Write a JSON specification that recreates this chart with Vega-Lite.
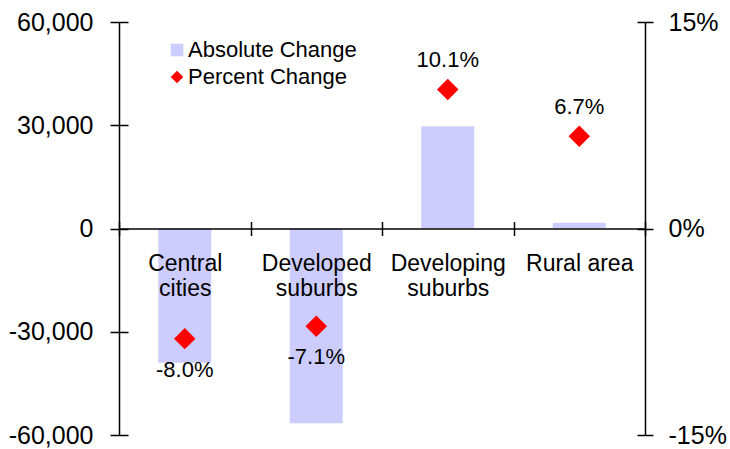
{
  "$schema": "https://vega.github.io/schema/vega-lite/v6.json",
  "width": 526,
  "height": 413,
  "autosize": {"type": "none"},
  "padding": {"left": 119, "top": 22, "right": 85, "bottom": 14},
  "config": {
    "view": {"stroke": null},
    "font": "Liberation Sans",
    "locale": {"number": {"decimal": ".", "thousands": ",", "grouping": [3], "currency": ["$", ""], "minus": "-"}},
    "axis": {"domainColor": "black", "tickColor": "black", "labelColor": "black", "grid": false, "title": null, "domainWidth": 1.5, "tickWidth": 1.5, "labelFont": "Liberation Sans"},
    "legend": {"labelFont": "Liberation Sans"}
  },
  "data": {
    "values": [
      {"cat": "Central cities", "abs": -39000, "pct": -0.080},
      {"cat": "Developed suburbs", "abs": -56600, "pct": -0.071},
      {"cat": "Developing suburbs", "abs": 29700, "pct": 0.101},
      {"cat": "Rural area", "abs": 1700, "pct": 0.067}
    ]
  },
  "layer": [
    {
      "mark": {"type": "bar", "width": 53},
      "encoding": {
        "x": {"field": "cat", "type": "nominal", "sort": null,
          "scale": {"paddingInner": 0, "paddingOuter": 0},
          "axis": {"orient": "bottom", "offset": -206.5, "zindex": 1, "tickBand": "extent", "tickSize": 7, "labelPadding": 17, "labelAngle": 0, "labelFontSize": 23, "labelLineHeight": 25, "labelLimit": 300,
            "labelExpr": "!isValid(datum.value) ? '' : (datum.value == 'Rural area' ? datum.value : split(datum.value, ' '))"}},
        "y": {"field": "abs", "type": "quantitative",
          "scale": {"domain": [-60000, 60000], "nice": false},
          "axis": {"orient": "left", "values": [-60000, -30000, 0, 30000, 60000], "format": ",.0f", "tickSize": 9, "labelPadding": 17, "labelFontSize": 25}},
        "color": {"datum": "Absolute Change", "type": "nominal",
          "scale": {"domain": ["Absolute Change", "Percent Change"], "range": ["#CCCCFF", "#FF0000"]},
          "legend": {"title": null, "orient": "none", "legendX": 47, "legendY": 17, "labelFontSize": 22, "labelLimit": 400, "symbolSize": 160, "rowPadding": 5, "labelOffset": 0}}
      }
    },
    {
      "mark": {"type": "bar", "width": 53, "opacity": 0},
      "encoding": {
        "x": {"field": "cat", "type": "nominal", "sort": null,
          "axis": {"orient": "bottom", "offset": -206.5, "zindex": 1, "tickBand": "extent", "tickSize": -7, "labels": false, "domain": false}},
        "y": {"field": "abs", "type": "quantitative",
          "scale": {"domain": [-60000, 60000], "nice": false},
          "axis": {"orient": "left", "values": [-60000, -30000, 0, 30000, 60000], "tickSize": -9, "labels": false, "domain": false}}
      }
    },
    {
      "mark": {"type": "point", "filled": true, "opacity": 1, "size": 460},
      "encoding": {
        "x": {"field": "cat", "type": "nominal", "sort": null, "axis": null},
        "y": {"field": "pct", "type": "quantitative",
          "scale": {"domain": [-0.15, 0.15], "nice": false},
          "axis": {"orient": "right", "values": [-0.15, 0, 0.15], "format": ".0%", "tickSize": 8, "labelPadding": 15, "labelFontSize": 25}},
        "color": {"datum": "Percent Change", "type": "nominal"},
        "shape": {"datum": "Percent Change", "type": "nominal",
          "scale": {"domain": ["Absolute Change", "Percent Change"], "range": ["square", "diamond"]},
          "legend": {"title": null, "orient": "none", "legendX": 47, "legendY": 17, "labelFontSize": 22, "labelLimit": 400, "symbolSize": 160, "rowPadding": 5, "labelOffset": 0}}
      }
    },
    {
      "transform": [{"filter": "datum.pct > 0"}],
      "mark": {"type": "text", "dy": -29, "fontSize": 22, "color": "black"},
      "encoding": {
        "x": {"field": "cat", "type": "nominal", "sort": null, "axis": null},
        "y": {"field": "pct", "type": "quantitative",
          "scale": {"domain": [-0.15, 0.15], "nice": false},
          "axis": {"orient": "right", "values": [-0.15, 0, 0.15], "tickSize": -8, "labels": false, "domain": false}},
        "text": {"field": "pct", "type": "quantitative", "format": ".1%"}
      }
    },
    {
      "transform": [{"filter": "datum.pct < 0"}],
      "mark": {"type": "text", "dy": 31, "fontSize": 22, "color": "black"},
      "encoding": {
        "x": {"field": "cat", "type": "nominal", "sort": null, "axis": null},
        "y": {"field": "pct", "type": "quantitative",
          "scale": {"domain": [-0.15, 0.15], "nice": false}, "axis": null},
        "text": {"field": "pct", "type": "quantitative", "format": ".1%"}
      }
    }
  ],
  "resolve": {"scale": {"y": "independent"}, "axis": {"y": "independent", "x": "independent"}}
}
